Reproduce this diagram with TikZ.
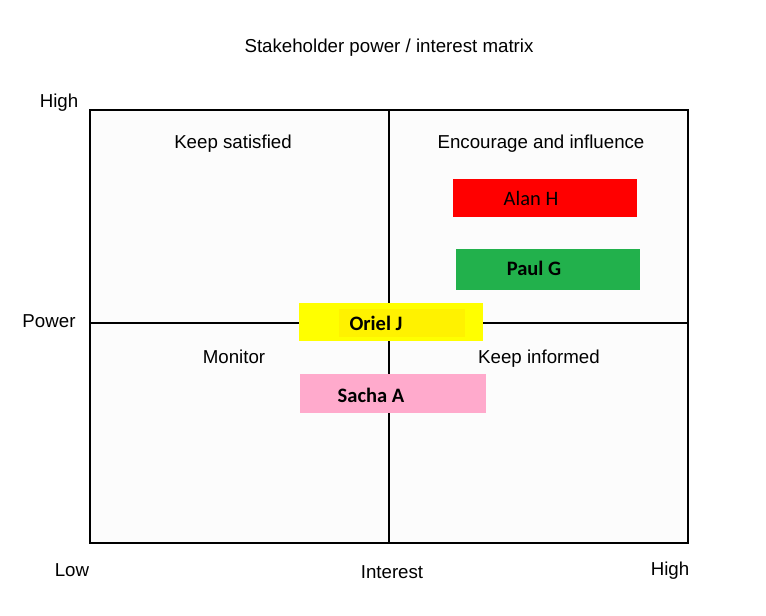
\documentclass[tikz,border=0pt]{standalone}
\usepackage{fontspec}
\setmainfont{Liberation Sans}
\newfontfamily\calibri{Carlito}
\usetikzlibrary{positioning}

\definecolor{alanred}{HTML}{FF0000}
\definecolor{paulgreen}{HTML}{22B14C}
\definecolor{orielyellow}{HTML}{FFFF00}
\definecolor{orielinner}{HTML}{FFF200}
\definecolor{sachapink}{HTML}{FFAACC}

\begin{document}
\begin{tikzpicture}[x=1pt,y=-1pt,
    every node/.style={inner sep=0pt, font=\fontsize{18.7}{21}\selectfont,
        text height=13.4pt, text depth=0pt},
    grid/.style={line width=2.8pt},
    tag/.style={minimum width=184pt, minimum height=38pt, text height=, text depth=},
    who/.style={font=\calibri\bfseries\fontsize{20.5}{22}\selectfont},
]
\useasboundingbox[fill=white] (0,0) rectangle (766,616);

% the matrix
\draw[grid, fill=black!1] (90,110) rectangle (688,543);
\draw[grid] (389,110) -- (389,543);
\draw[grid] (90,323) -- (688,323);

\node (title) at (389,46) {Stakeholder power / interest matrix};
\node (ks) at (233,141.5) {Keep satisfied};
\node (ei) at (541,141.5) {Encourage and influence};
\node (mon) at (234,357) {Monitor};
\node (ki) at (539,357) {Keep informed};

% axis labels
\node (phigh) at (59,101) {High};
\node (power) at (49,321) {Power};
\node (ilow) at (72,570) {Low};
\node (interest) at (392,571.5) {Interest};
\node (ihigh) at (670,569) {High};

% stakeholders
\node[tag, fill=alanred] (alanbox) at (545,197.5) {};
\node[text height=, text depth=, font=\calibri\fontsize{20.5}{22}\selectfont] (alan) at (531,198) {Alan H};
\node[tag, fill=paulgreen, minimum height=41pt] (paulbox) at (547.5,269.5) {};
\node[who, text height=, text depth=] (paul) at (534,268) {Paul G};
\node[tag, fill=orielyellow] (orielbox) at (390.5,322) {};
\node[tag, fill=orielinner, minimum width=126pt, minimum height=28pt] (orielin) at (402,323) {};
\node[who, text height=, text depth=] (oriel) at (376,323) {Oriel J};
\node[tag, fill=sachapink, minimum width=186pt, minimum height=39pt] (sachabox) at (393,393.5) {};
\node[who, text height=, text depth=] (sacha) at (371,395) {Sacha A};
\end{tikzpicture}
\end{document}
